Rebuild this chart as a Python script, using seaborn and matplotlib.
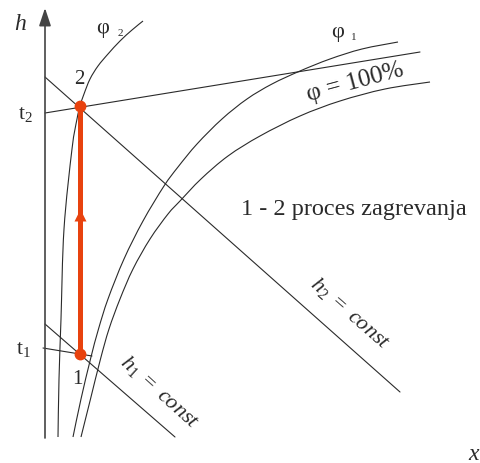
import matplotlib
matplotlib.use("Agg")
import matplotlib.pyplot as plt
from matplotlib.path import Path
from matplotlib.patches import PathPatch
import seaborn as sns
import pandas as pd

sns.set_theme(style="white")
plt.rcParams["font.family"] = ["Liberation Serif", "DejaVu Serif"]
plt.rcParams["mathtext.fontset"] = "custom"
plt.rcParams["mathtext.rm"] = "Liberation Serif"
plt.rcParams["mathtext.it"] = "Liberation Serif:italic"

# h-x diagram sketch, drawn in a 481 x 464 canvas frame (y grows downwards)
phi2_x = [58, 59, 61, 64, 72, 77, 80, 84, 90, 98, 108, 120, 132, 143]
phi2_y = [438, 380, 320, 230, 150, 120, 107, 95, 80, 67, 55, 42, 31, 22]

phi1_x = [73, 81, 90.5, 98.5, 108, 124, 143, 164, 178, 197, 222, 247, 272,
          300, 330, 362, 398]
phi1_y = [438, 400, 360, 330, 300, 260, 222, 187, 168, 145, 120, 100, 85,
          72, 60, 50, 43]

phi100_x = [81, 90.5, 100.5, 109, 120, 133, 150, 168, 180, 201, 228, 260,
            300, 340, 385, 430]
phi100_y = [438, 400, 360, 330, 300, 270, 240, 215, 202, 180, 157, 137,
            117, 102, 90, 83]

t2_x, t2_y = [45, 420], [114, 53]
t1_x, t1_y = [43, 92], [349, 357]
h2_x, h2_y = [45, 400], [78, 393]
h1_x, h1_y = [45, 175], [325, 438]

state_x = [80.5, 80.5]
state_y = [355, 107]
state_names = ["1", "2"]

RED = "#E8420E"
INK = "#2a2a2a"

fig = plt.figure(figsize=(4.81, 4.64), dpi=100)
ax = fig.add_axes([0, 0, 1, 1])
ax.set_xlim(0, 481)
ax.set_ylim(464, 0)
ax.axis("off")


def straight(xs, ys, lw=0.8):
    df = pd.DataFrame({"x": xs, "y": ys})
    sns.lineplot(data=df, x="x", y="y", sort=False, estimator=None,
                 color=INK, lw=lw, ax=ax, legend=False)


def smooth(xs, ys, lw=0.8):
    """Pass a smooth Bezier path through the given points (Catmull-Rom tangents)."""
    pts = list(zip(xs, ys))
    verts = [pts[0]]
    codes = [Path.MOVETO]
    n = len(pts)
    for i in range(n - 1):
        p0 = pts[i - 1] if i > 0 else pts[i]
        p1 = pts[i]
        p2 = pts[i + 1]
        p3 = pts[i + 2] if i + 2 < n else pts[i + 1]
        c1 = (p1[0] + (p2[0] - p0[0]) / 6.0, p1[1] + (p2[1] - p0[1]) / 6.0)
        c2 = (p2[0] - (p3[0] - p1[0]) / 6.0, p2[1] - (p3[1] - p1[1]) / 6.0)
        verts += [c1, c2, p2]
        codes += [Path.CURVE4] * 3
    ax.add_patch(PathPatch(Path(verts, codes), fill=False, ec=INK, lw=lw))


for xs, ys in [(phi2_x, phi2_y), (phi1_x, phi1_y), (phi100_x, phi100_y)]:
    smooth(xs, ys)
for xs, ys in [(t2_x, t2_y), (t1_x, t1_y), (h2_x, h2_y), (h1_x, h1_y)]:
    straight(xs, ys)

# axes with arrowheads
ax.annotate("", xy=(45, 9), xytext=(45, 439),
            arrowprops=dict(arrowstyle="-|>,head_length=0.9,head_width=0.3",
                            color="#444444", lw=1.2, shrinkA=0, shrinkB=0))
ax.annotate("", xy=(482, 438.5), xytext=(44.5, 438.5),
            arrowprops=dict(arrowstyle="-|>,head_length=0.9,head_width=0.3",
                            color="#444444", lw=1.2, shrinkA=0, shrinkB=0))

# heating process 1 -> 2
ax.plot(state_x, state_y, color=RED, lw=3.6, solid_capstyle="butt", zorder=5)
ax.plot(state_x, state_y, "o", color=RED, ms=7.5, zorder=6)
ax.plot([state_x[0]], [216], marker="^", color=RED, ms=9, mec="none", zorder=6)

ax.text(77, 380, state_names[0], fontsize=15, ha="center", va="center", color=INK)
ax.text(79, 80, state_names[1], fontsize=15, ha="center", va="center", color=INK)

# labels
ax.text(20, 25, r"$h$", fontsize=17, ha="center", va="center", color=INK)
ax.text(474, 455, r"$x$", fontsize=17, ha="center", va="center", color=INK)
ax.text(25, 115, r"$\mathrm{t}_{2}$", fontsize=15.5, ha="center", va="center", color=INK)
ax.text(23, 350, r"$\mathrm{t}_{1}$", fontsize=15.5, ha="center", va="center", color=INK)

ax.text(103, 29, "φ", fontsize=16, ha="center", va="center", color=INK)
ax.text(120, 34, "2", fontsize=8, ha="center", va="center", color=INK)
ax.text(338, 32, "φ", fontsize=16, ha="center", va="center", color=INK)
ax.text(354, 37, "1", fontsize=8, ha="center", va="center", color=INK)

ax.text(355, 82, "φ = 100%", fontsize=18, ha="center", va="center",
        rotation=15, rotation_mode="anchor", color=INK)
ax.text(354, 210, "1 - 2 proces zagrevanja", fontsize=17.5, ha="center",
        va="center", color=INK)
ax.text(160, 392, r"$h_{1}\ =\ const$", fontsize=16, ha="center", va="center",
        rotation=-42, rotation_mode="anchor", color=INK)
ax.text(350, 313, r"$h_{2}\ =\ const$", fontsize=16, ha="center", va="center",
        rotation=-41, rotation_mode="anchor", color=INK)

fig.savefig("out.png", dpi=100)
